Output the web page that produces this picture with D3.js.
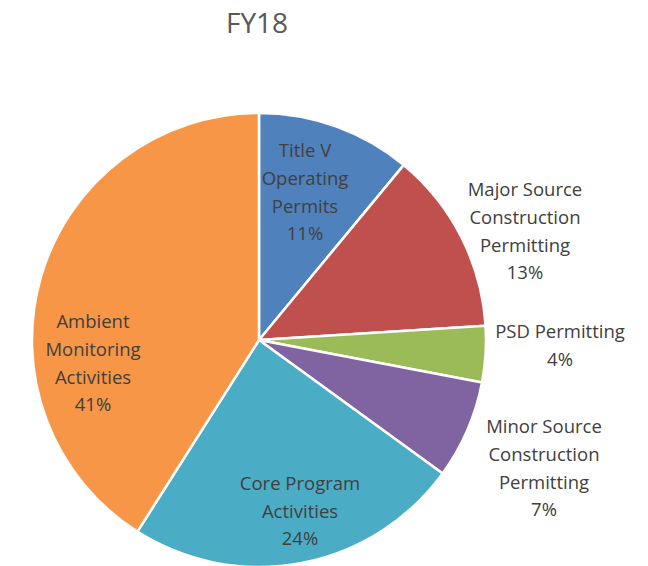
<!DOCTYPE html>
<html>
<head>
<meta charset="utf-8">
<script src="https://cdn.jsdelivr.net/npm/d3@7"></script>
<style>
  body { margin: 0; background: #fff; }
  text { font-family: "Open Sans", sans-serif; }
</style>
</head>
<body>
<div id="chart"></div>
<script>
// FY18 budget split
const categories = ["Title V Operating Permits", "Major Source Construction Permitting", "PSD Permitting",
  "Minor Source Construction Permitting", "Core Program Activities", "Ambient Monitoring Activities"];
const values = [11, 13, 4, 7, 24, 41];
const labelLines = [
  ["Title V", "Operating", "Permits"],
  ["Major Source", "Construction", "Permitting"],
  ["PSD Permitting"],
  ["Minor Source", "Construction", "Permitting"],
  ["Core Program", "Activities"],
  ["Ambient", "Monitoring", "Activities"]
];
const colors = ["#4f81bd", "#c0504d", "#9bbb59", "#8064a2", "#4bacc6", "#f79646"];

// label block centres, relative to the pie centre (layout only)
const labelOffset = [[46, -148], [266, -109], [301, 5], [285, 128], [41, 171], [-166, 23]];

const w = 648, h = 566;
const cx = 259, cy = 340, R = 227;
const lineH = 27.8;

const svg = d3.select("#chart").append("svg")
  .attr("width", w)
  .attr("height", h);

svg.append("text")
  .attr("x", 257)
  .attr("y", 33)
  .attr("text-anchor", "middle")
  .attr("font-size", 28)
  .attr("fill", "#595959")
  .text("FY18");

const pie = d3.pie().sort(null).value(d => d);
const arc = d3.arc().innerRadius(0).outerRadius(R);

const g = svg.append("g").attr("transform", `translate(${cx},${cy})`);

const arcs = pie(values);

g.selectAll("path.slice")
  .data(arcs)
  .join("path")
  .attr("class", "slice")
  .attr("d", arc)
  .attr("fill", (d, i) => colors[i])
  .attr("stroke", "#fff")
  .attr("stroke-width", 2.5)
  .attr("stroke-linejoin", "round");

const total = d3.sum(values);

const labels = g.selectAll("text.lbl")
  .data(arcs)
  .join("text")
  .attr("class", "lbl")
  .attr("text-anchor", "middle")
  .attr("font-size", 18.5)
  .attr("fill", "#404040");

labels.each(function(d, i) {
  const lines = labelLines[i].concat([Math.round(d.value / total * 100) + "%"]);
  const [ox, oy] = labelOffset[i];
  const top = oy - (lines.length - 1) * lineH / 2;
  const t = d3.select(this);
  lines.forEach((s, k) => {
    t.append("tspan")
      .attr("x", ox)
      .attr("y", top + k * lineH)
      .attr("dy", "0.36em")
      .text(s);
  });
});
</script>
</body>
</html>
